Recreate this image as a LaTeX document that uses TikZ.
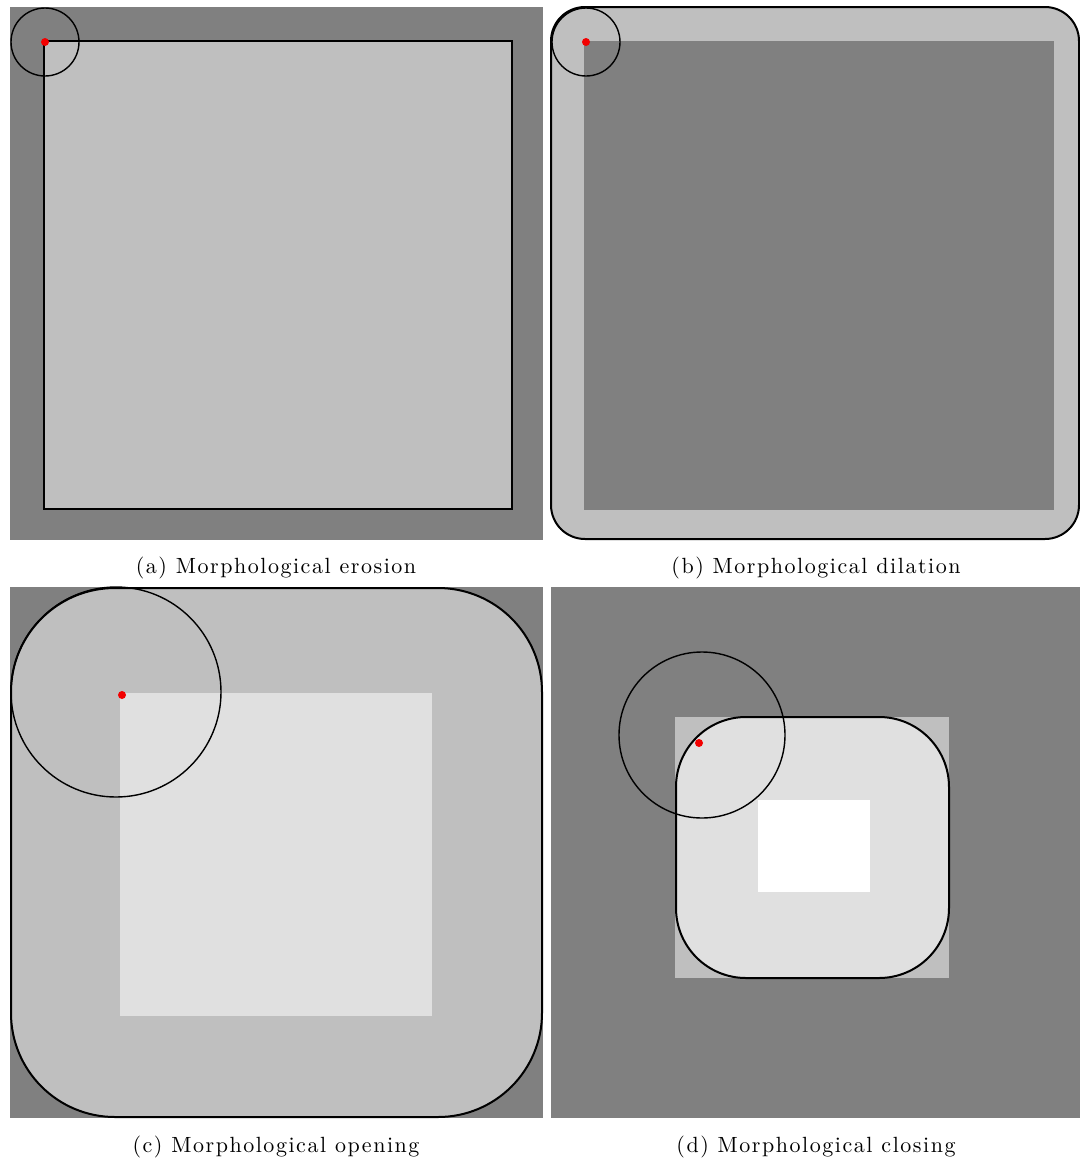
\documentclass[tikz,border=0pt]{standalone}
\usepackage{fontspec}
\usepackage{tikz}

\newfontfamily\capfont[LetterSpace=7]{Latin Modern Roman}

\begin{document}
\begin{tikzpicture}[x=0.5pt, y=-0.5pt,
    bg/.style={fill=black!50},
    outer/.style={fill=black!25},
    inner/.style={fill=black!12},
    outline/.style={draw=black, line width=1pt},
    probe/.style={draw=black, line width=0.7pt},
    origin/.style={fill=red!95!black},
    caption/.style={font=\capfont\fontsize{11}{13}\selectfont}
]
    \useasboundingbox (0,0) rectangle (1080,1162);

    % (a) erosion
    \fill[bg] (10,7) rectangle (543,540);
    \draw[outline, outer] (44,41) rectangle (512,509);
    \draw[probe] (45,42) circle[radius=34];
    \fill[origin] (45,42) circle[radius=4];
    \node[caption] (capA) at (276,568) {(a) Morphological erosion};

    % (b) dilation
    \draw[outline, outer, rounded corners=17pt] (551,7) rectangle (1079,539);
    \fill[bg] (584,41) rectangle (1054,510);
    \draw[probe] (586,42) circle[radius=34];
    \fill[origin] (586,42) circle[radius=4];
    \node[caption] (capB) at (816,568) {(b) Morphological dilation};

    % (c) opening
    \fill[bg] (10,587) rectangle (543,1118);
    \draw[outline, outer, rounded corners=52pt] (11,588) rectangle (542,1117);
    \fill[inner] (120,693) rectangle (432,1016);
    \draw[probe] (116,692) circle[radius=105];
    \fill[origin] (122,695) circle[radius=4];
    \node[caption] (capC) at (276,1147) {(c) Morphological opening};

    % (d) closing
    \fill[bg] (551,587) rectangle (1080,1118);
    \fill[outer] (675,717) rectangle (949,978);
    \draw[outline, inner, rounded corners=35pt] (676,717) rectangle (949,978);
    \fill[white] (758,800) rectangle (870,892);
    \draw[probe] (702,735) circle[radius=83];
    \fill[origin] (699,743) circle[radius=4];
    \node[caption] (capD) at (816,1147) {(d) Morphological closing};
\end{tikzpicture}
\end{document}
